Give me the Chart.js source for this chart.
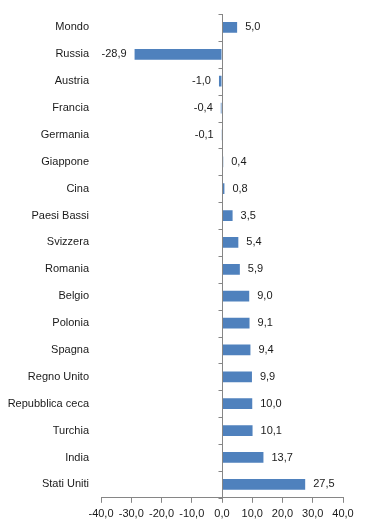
<!DOCTYPE html>
<html>
<head>
<meta charset="utf-8">
<script src="https://cdn.jsdelivr.net/npm/chart.js@4"></script>
<style>
  html, body { margin: 0; padding: 0; background: #fff; }
  #wrap { width: 369px; height: 530px; }
</style>
</head>
<body>
<div id="wrap"><canvas id="barChart" width="369" height="530"></canvas></div>
<script>
const countries = ['Mondo', 'Russia', 'Austria', 'Francia', 'Germania', 'Giappone', 'Cina',
  'Paesi Bassi', 'Svizzera', 'Romania', 'Belgio', 'Polonia', 'Spagna', 'Regno Unito',
  'Repubblica ceca', 'Turchia', 'India', 'Stati Uniti'];
const changes = [5.0, -28.9, -1.0, -0.4, -0.1, 0.4, 0.8, 3.5, 5.4, 5.9, 9.0, 9.1, 9.4, 9.9,
  10.0, 10.1, 13.7, 27.5];
const xMin = -40;
const xMax = 40;
const xStep = 10;

const barBlue = '#4F81BD';
const axisGray = '#868686';
const textColor = '#1a1a1a';
const fontFamily = '"Liberation Sans", Arial, sans-serif';

// comma as decimal separator, one digit
const fmt = v => v.toFixed(1).replace('.', ',');

// value labels at the end of each bar
const valueLabels = {
  id: 'valueLabels',
  afterDatasetsDraw(chart) {
    const ctx = chart.ctx;
    const meta = chart.getDatasetMeta(0);
    ctx.save();
    ctx.font = '11px ' + fontFamily;
    ctx.fillStyle = textColor;
    ctx.textBaseline = 'middle';
    meta.data.forEach((bar, i) => {
      const v = changes[i];
      if (v >= 0) {
        ctx.textAlign = 'left';
        ctx.fillText(fmt(v), bar.x + 8, bar.y);
      } else {
        ctx.textAlign = 'right';
        ctx.fillText(fmt(v), bar.x - 8, bar.y);
      }
    });
    ctx.restore();
  }
};

// vertical axis line sitting on zero, with small ticks between categories
const zeroAxis = {
  id: 'zeroAxis',
  afterDatasetsDraw(chart) {
    const ctx = chart.ctx;
    const area = chart.chartArea;
    const x0 = Math.round(chart.scales.x.getPixelForValue(0)) + 0.5;
    const n = countries.length;
    const step = (area.bottom - area.top) / n;
    ctx.save();
    ctx.strokeStyle = axisGray;
    ctx.lineWidth = 1;
    ctx.beginPath();
    ctx.moveTo(x0, area.top);
    ctx.lineTo(x0, area.bottom);
    for (let i = 0; i <= n; i++) {
      const y = Math.round(area.top + i * step) + 0.5;
      ctx.moveTo(x0 - 4, y);
      ctx.lineTo(x0, y);
    }
    ctx.stroke();
    ctx.restore();
  }
};

const ctx = document.getElementById('barChart').getContext('2d');

new Chart(ctx, {
  type: 'bar',
  data: {
    labels: countries,
    datasets: [{
      data: changes,
      backgroundColor: barBlue,
      borderWidth: 0,
      barPercentage: 0.4,
      categoryPercentage: 1.0
    }]
  },
  options: {
    indexAxis: 'y',
    responsive: false,
    animation: false,
    layout: { padding: { top: 14, right: 26, bottom: 4, left: 0 } },
    plugins: {
      legend: { display: false },
      tooltip: { enabled: false }
    },
    scales: {
      x: {
        min: xMin,
        max: xMax,
        grid: {
          drawOnChartArea: false,
          drawTicks: true,
          tickLength: 5,
          color: axisGray
        },
        border: { display: true, color: axisGray },
        ticks: {
          stepSize: xStep,
          padding: 5,
          color: textColor,
          font: { family: fontFamily, size: 11 },
          maxRotation: 0,
          callback: v => fmt(v)
        }
      },
      y: {
        grid: { display: false, drawTicks: false },
        border: { display: false },
        ticks: {
          padding: 12,
          color: textColor,
          font: { family: fontFamily, size: 11 },
          autoSkip: false
        },
        // fixed label column, no extra label padding above/below the plot
        afterFit(scale) {
          scale.width = 101;
          scale.paddingTop = 0;
          scale.paddingBottom = 0;
        }
      }
    }
  },
  plugins: [valueLabels, zeroAxis]
});
</script>
</body>
</html>
